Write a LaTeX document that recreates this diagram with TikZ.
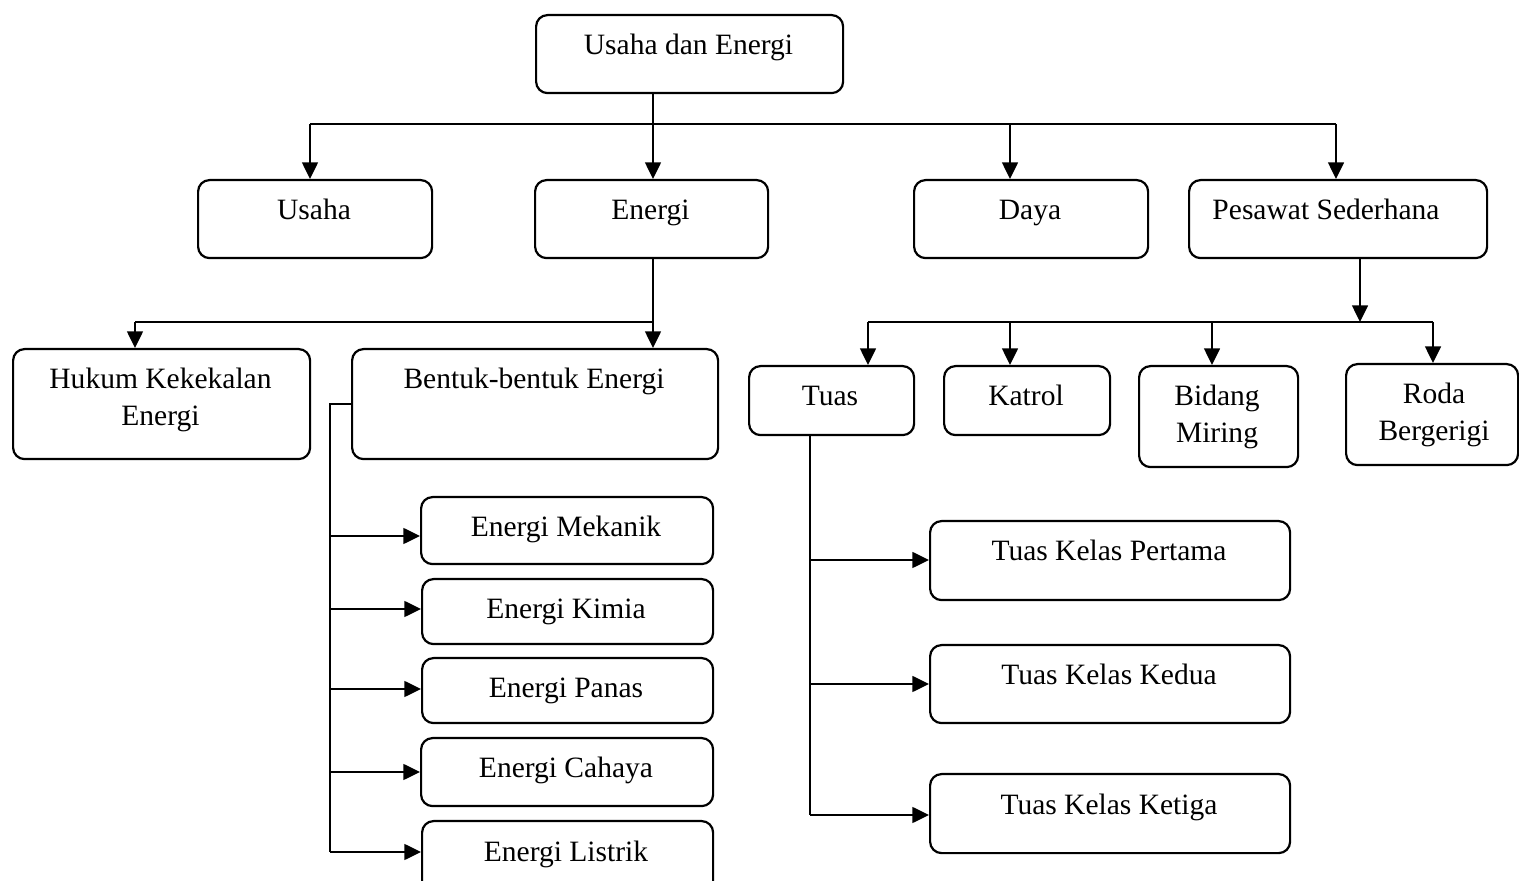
\documentclass[tikz,border=0pt]{standalone}
\usepackage{fontspec}
\setmainfont{Liberation Serif}
\usetikzlibrary{arrows.meta}
% box given by its corners, with its label set a fixed distance below the top edge
\newcommand\mybox[7]{%
  \node[box, minimum width={(#4-#2)*0.02cm}, minimum height={(#5-#3)*0.02cm},
        anchor=north west] (#1) at (#2,#3) {};
  \node[lbl] (#1-t) at (#6,{#3+41}) {#7};%
}
\newcommand\twolines[2]{\begin{tabular}[t]{@{}c@{}}#1\\#2\end{tabular}}
\begin{document}
\begin{tikzpicture}[x=0.02cm, y=-0.02cm,
  box/.style={draw, line width=1.25pt, rounded corners=6.5pt, inner sep=0pt},
  lbl/.style={anchor=base, inner sep=0pt, font=\fontsize{16.8}{20.5}\selectfont},
  link/.style={line width=1.25pt, -{Triangle[length=9.5pt,width=9pt]}},
  thinbus/.style={line width=0.75pt},
  bus/.style={line width=1.25pt},
]
\clip (0,0) rectangle (1519,881);

% boxes
\mybox{top}{535}{14}{842}{92}{688.5}{Usaha dan Energi}
\mybox{usaha}{197}{179}{431}{257}{314}{Usaha}
\mybox{energi}{534}{179}{767}{257}{650.5}{Energi}
\mybox{daya}{913}{179}{1147}{257}{1030}{Daya}
\mybox{pesawat}{1188}{179}{1486}{257}{1326}{Pesawat Sederhana}
\mybox{hukum}{12}{348}{309}{458}{160.5}{\twolines{Hukum Kekekalan}{Energi}}
\mybox{bentuk}{351}{348}{717}{458}{534}{Bentuk-bentuk Energi}
\mybox{mekanik}{420}{496}{712}{563}{566}{Energi Mekanik}
\mybox{kimia}{421}{578}{712}{643}{566}{Energi Kimia}
\mybox{panas}{421}{657}{712}{722}{566}{Energi Panas}
\mybox{cahaya}{420}{737}{712}{805}{566}{Energi Cahaya}
\mybox{listrik}{421}{820}{712}{892}{566}{Energi Listrik}
\mybox{tuas}{748}{365}{913}{434}{830}{Tuas}
\mybox{katrol}{943}{365}{1109}{434}{1026}{Katrol}
\mybox{bidang}{1138}{365}{1297}{466}{1217}{\twolines{Bidang}{Miring}}
\mybox{roda}{1345}{363}{1517}{464}{1434}{\twolines{Roda}{Bergerigi}}
\mybox{pertama}{929}{520}{1289}{599}{1109}{Tuas Kelas Pertama}
\mybox{kedua}{929}{644}{1289}{722}{1109}{Tuas Kelas Kedua}
\mybox{ketiga}{929}{773}{1289}{852}{1109}{Tuas Kelas Ketiga}

% first level
\coordinate (bA) at (310,124);
\coordinate (bB) at (653,124);
\coordinate (bC) at (1010,124);
\coordinate (bD) at (1336,124);
\draw[thinbus] (bA) -- (bD);
\draw[link] (top.south -| bB) -- (bB |- energi.north);
\draw[link] (bA) -- (bA |- usaha.north);
\draw[link] (bC) -- (bC |- daya.north);
\draw[link] (bD) -- (bD |- pesawat.north);

% energy branch
\coordinate (cA) at (135,322);
\coordinate (cB) at (653,322);
\draw[thinbus] (cA) -- (cB);
\draw[link] (energi.south -| cB) -- (cB |- bentuk.north);
\draw[link] (cA) -- (cA |- hukum.north);

\coordinate (s1) at (330,536);
\coordinate (s2) at (330,609);
\coordinate (s3) at (330,689);
\coordinate (s4) at (330,772);
\coordinate (s5) at (330,852);
\draw[thinbus] (bentuk.west) -- (bentuk.west -| s5) -- (s5);
\draw[link] (s1) -- (s1 -| mekanik.west);
\draw[link] (s2) -- (s2 -| kimia.west);
\draw[link] (s3) -- (s3 -| panas.west);
\draw[link] (s4) -- (s4 -| cahaya.west);
\draw[link] (s5) -- (s5 -| listrik.west);

% simple machines branch
\coordinate (dP) at (1360,322);
\coordinate (dA) at (868,322);
\coordinate (dB) at (1010,322);
\coordinate (dC) at (1212,322);
\coordinate (dD) at (1433,322);
\draw[bus] (dA) -- (dD);
\draw[link] (pesawat.south -| dP) -- (dP);
\draw[link] (dA) -- (dA |- tuas.north);
\draw[link] (dB) -- (dB |- katrol.north);
\draw[link] (dC) -- (dC |- bidang.north);
\draw[link] (dD) -- (dD |- roda.north);

\coordinate (t1) at (810,560);
\coordinate (t2) at (810,684);
\coordinate (t3) at (810,815);
\draw[bus] (tuas.south -| t3) -- (t3);
\draw[link] (t1) -- (t1 -| pertama.west);
\draw[link] (t2) -- (t2 -| kedua.west);
\draw[link] (t3) -- (t3 -| ketiga.west);
\end{tikzpicture}
\end{document}
